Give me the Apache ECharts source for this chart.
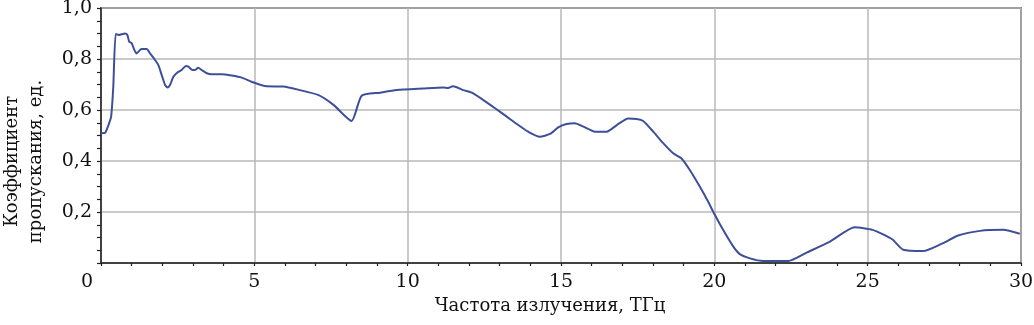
<!DOCTYPE html>
<html>
<head>
<meta charset="utf-8">
<script src="https://cdn.jsdelivr.net/npm/echarts@6/dist/echarts.min.js"></script>
<style>html,body{margin:0;padding:0;background:#fff}#c{width:1034px;height:325px}</style>
</head>
<body>
<div id="c"></div>
<script>
const freq = [0, 0.13, 0.24, 0.33, 0.40, 0.48, 0.59, 0.67, 0.78, 0.86, 0.92, 1.0, 1.09, 1.16, 1.27, 1.33, 1.49, 1.60, 1.74, 1.87, 1.98, 2.09, 2.17, 2.25, 2.36, 2.50, 2.63, 2.77, 2.85, 2.98, 3.07, 3.17, 3.28, 3.45, 3.61, 3.94, 4.26, 4.59, 4.91, 5.40, 5.94, 6.49, 7.08, 7.58, 8.17, 8.50, 9.10, 9.64, 10.51, 11.16, 11.32, 11.47, 11.60, 11.81, 12.09, 12.47, 12.85, 13.23, 13.61, 13.93, 14.31, 14.64, 14.91, 15.18, 15.45, 15.73, 16.11, 16.49, 16.82, 17.19, 17.47, 17.68, 18.01, 18.34, 18.66, 18.93, 19.20, 19.53, 19.80, 20.02, 20.29, 20.62, 20.83, 21.16, 21.60, 22.41, 23.01, 23.77, 24.58, 25.16, 25.80, 26.16, 26.81, 27.44, 27.95, 28.66, 29.42, 29.96];
const trans = [0.509, 0.51, 0.54, 0.574, 0.69, 0.898, 0.894, 0.897, 0.90, 0.894, 0.868, 0.862, 0.835, 0.822, 0.835, 0.839, 0.839, 0.822, 0.80, 0.776, 0.737, 0.698, 0.688, 0.698, 0.73, 0.748, 0.757, 0.773, 0.770, 0.757, 0.757, 0.766, 0.757, 0.744, 0.74, 0.74, 0.735, 0.727, 0.711, 0.693, 0.692, 0.678, 0.659, 0.62, 0.557, 0.656, 0.668, 0.678, 0.684, 0.688, 0.686, 0.693, 0.689, 0.678, 0.668, 0.639, 0.607, 0.574, 0.541, 0.515, 0.495, 0.506, 0.532, 0.545, 0.548, 0.535, 0.515, 0.515, 0.541, 0.567, 0.565, 0.557, 0.515, 0.469, 0.43, 0.41, 0.365, 0.299, 0.24, 0.188, 0.129, 0.064, 0.035, 0.018, 0.008, 0.008, 0.041, 0.084, 0.14, 0.13, 0.093, 0.052, 0.047, 0.077, 0.108, 0.126, 0.13, 0.115];
const xTitle = 'Частота излучения, ТГц';
const yTitle = 'Коэффициент\nпропускания, ед.';

const FONT = '"DejaVu Serif", "Liberation Serif", serif';
const chart = echarts.init(document.getElementById('c'), null, {renderer: 'canvas'});
chart.setOption({
  animation: false,
  grid: {left: 101, right: 13, top: 8, bottom: 62, containLabel: false, outerBoundsMode: 'none', show: true, borderColor: '#2a2a2a', borderWidth: 1.5, backgroundColor: 'transparent'},
  xAxis: {
    type: 'value', min: 0, max: 30, interval: 5,
    name: xTitle, nameLocation: 'middle', nameGap: 34,
    nameTextStyle: {fontFamily: FONT, fontSize: 18, color: '#111', padding: [0, 22, 0, 0]},
    axisLine: {lineStyle: {color: '#222', width: 1.5}},
    axisTick: {show: true, inside: false, length: 3, lineStyle: {color: '#222', width: 1.2}},
    minorTick: {show: true, splitNumber: 5, length: 3, lineStyle: {color: '#222', width: 1.2}},
    splitLine: {show: true, lineStyle: {color: '#b8b8b8', width: 1.5}},
    axisLabel: {
      fontFamily: FONT, fontSize: 19, color: '#111', margin: 10,
      formatter: v => v === 0 ? '{z|0}' : String(v),
      rich: {z: {fontFamily: FONT, fontSize: 19, color: '#111', padding: [0, 28, 0, 0]}}
    }
  },
  yAxis: {
    type: 'value', min: 0, max: 1, interval: 0.2,
    name: yTitle, nameLocation: 'middle', nameGap: 53, nameRotate: 90,
    nameTextStyle: {fontFamily: FONT, fontSize: 18, lineHeight: 24, color: '#111', padding: [0, 52, 0, 0]},
    axisLine: {show: true, lineStyle: {color: '#222', width: 1.5}},
    axisTick: {show: true, inside: false, length: 4, lineStyle: {color: '#222', width: 1.2}},
    minorTick: {show: true, splitNumber: 4, length: 4, lineStyle: {color: '#222', width: 1.2}},
    splitLine: {show: true, lineStyle: {color: '#b8b8b8', width: 1.5}},
    axisLabel: {
      fontFamily: FONT, fontSize: 19, color: '#111', margin: 9,
      formatter: v => v === 0 ? '' : v.toFixed(1).replace('.', ',')
    }
  },
  series: [{
    type: 'line',
    data: freq.map((f, i) => [f, trans[i]]),
    showSymbol: false, smooth: 0.2,
    lineStyle: {color: '#3e4f99', width: 2},
    itemStyle: {color: '#3e4f99'}
  }]
});
</script>
</body>
</html>
